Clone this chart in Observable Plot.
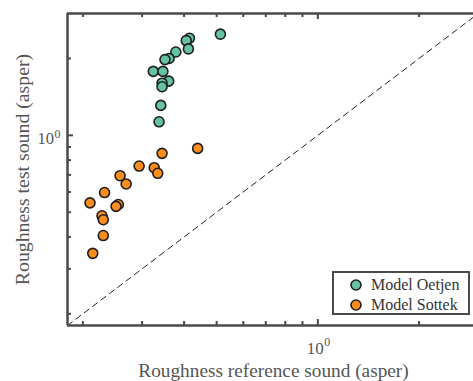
<!DOCTYPE html>
<html>
<head>
<meta charset="utf-8">
<script src="https://cdn.jsdelivr.net/npm/d3@7"></script>
<script src="https://cdn.jsdelivr.net/npm/@observablehq/plot@0.6"></script>
<style>
  body { margin: 0; background: #fff; }
  #wrap { position: relative; width: 473px; height: 381px; font-family: "Liberation Serif", "Times New Roman", serif; }
  #legend { position: absolute; left: 332px; top: 271px; width: 134px; height: 40px; border: 2px solid #4a4a4a; background: #fff; box-sizing: content-box; }
  #legend .row { position: absolute; left: 0; height: 20px; display: flex; align-items: center; font-size: 16px; color: #333; }
  #legend svg { margin-left: 16px; margin-right: 9px; }
</style>
</head>
<body>
<div id="wrap"></div>
<script>
// ---- data ----
const seriesNames = ["Model Oetjen", "Model Sottek"];
const seriesColors = ["#66c2a5", "#f98e1d"];

const oetjenX = [0.513, 0.415, 0.406, 0.412, 0.378, 0.361, 0.351, 0.324, 0.346, 0.360, 0.344, 0.344, 0.341, 0.337];
const oetjenY = [2.49, 2.40, 2.35, 2.18, 2.12, 2.00, 1.98, 1.78, 1.78, 1.63, 1.60, 1.55, 1.31, 1.13];

const sottekX = [0.439, 0.344, 0.294, 0.326, 0.334, 0.258, 0.269, 0.232, 0.210, 0.255, 0.251, 0.228, 0.230, 0.230, 0.214];
const sottekY = [0.889, 0.850, 0.758, 0.747, 0.710, 0.695, 0.645, 0.597, 0.544, 0.536, 0.527, 0.484, 0.467, 0.405, 0.345];

const minorTicks = [0.2, 0.3, 0.4, 0.5, 0.6, 0.7, 0.8, 0.9, 2];
const majorTicks = [1];
const diagonal = [0.18, 3];

const xLabel = "Roughness reference sound (asper)";
const yLabel = "Roughness test sound (asper)";

// ---- layout ----
const W = 473, H = 381;
const mL = 67, mT = 13, mB = 56, mR = 0;
const pw = W - mL - mR, ph = H - mT - mB;
const xDomain = [0.18, 2.904];
const yDomain = [0.18, 3];
const axisColor = "#4a4a4a";
const textColor = "#555";
const font = "'Liberation Serif', 'Times New Roman', serif";

const oetjen = oetjenX.map((x, i) => ({x, y: oetjenY[i]}));
const sottek = sottekX.map((x, i) => ({x, y: sottekY[i]}));

const chart = Plot.plot({
  width: W, height: H,
  marginLeft: mL, marginTop: mT, marginBottom: mB, marginRight: mR,
  style: {fontFamily: font, background: "#fff"},
  x: {type: "log", domain: xDomain, axis: null},
  y: {type: "log", domain: yDomain, axis: null},
  marks: [
    // diagonal y = x
    Plot.line(diagonal, {x: d => d, y: d => d, stroke: "#222", strokeWidth: 1, strokeDasharray: "6,4.5", clip: true}),
    // ticks (inward)
    Plot.tickX(minorTicks, {x: d => d, insetTop: ph - 4, stroke: axisColor, strokeWidth: 2}),
    Plot.tickX(majorTicks, {x: d => d, insetTop: ph - 6, stroke: axisColor, strokeWidth: 2}),
    Plot.tickX(minorTicks, {x: d => d, insetBottom: ph - 4, stroke: axisColor, strokeWidth: 2}),
    Plot.tickX(majorTicks, {x: d => d, insetBottom: ph - 6, stroke: axisColor, strokeWidth: 2}),
    Plot.tickY(minorTicks, {y: d => d, insetRight: pw - 4, stroke: axisColor, strokeWidth: 2}),
    Plot.tickY(majorTicks, {y: d => d, insetRight: pw - 6, stroke: axisColor, strokeWidth: 2}),
    // frame: left, bottom, top (right side cropped)
    Plot.ruleX([xDomain[0]], {stroke: axisColor, strokeWidth: 2.5}),
    Plot.ruleY([yDomain[0]], {stroke: axisColor, strokeWidth: 2.5}),
    Plot.ruleY([yDomain[1]], {stroke: axisColor, strokeWidth: 2.5}),
    // tick labels 10^0
    Plot.text(majorTicks, {x: d => d, frameAnchor: "bottom", text: () => "10", textAnchor: "end", lineAnchor: "bottom", dx: 6, dy: 28, fontSize: 17, fill: textColor}),
    Plot.text(majorTicks, {x: d => d, frameAnchor: "bottom", text: () => "0", textAnchor: "start", lineAnchor: "bottom", dx: 6.5, dy: 20, fontSize: 12, fill: textColor}),
    Plot.text(majorTicks, {y: d => d, frameAnchor: "left", text: () => "10", textAnchor: "end", lineAnchor: "bottom", dx: -13.5, dy: 9, fontSize: 16.5, fill: textColor}),
    Plot.text(majorTicks, {y: d => d, frameAnchor: "left", text: () => "0", textAnchor: "start", lineAnchor: "bottom", dx: -13, dy: 3, fontSize: 12, fill: textColor}),
    // axis labels
    Plot.text([xLabel], {frameAnchor: "bottom", text: d => d, textAnchor: "middle", lineAnchor: "bottom", dx: 3, dy: 51, fontSize: 19.3, fill: textColor}),
    Plot.text([yLabel], {frameAnchor: "left", text: d => d, textAnchor: "middle", rotate: -90, lineAnchor: "bottom", dx: -38.5, dy: 0, fontSize: 19.8, fill: textColor}),
    // points
    Plot.dot(oetjen, {x: "x", y: "y", r: 5, fill: seriesColors[0], stroke: "#1e1e1e", strokeWidth: 1.6}),
    Plot.dot(sottek, {x: "x", y: "y", r: 5, fill: seriesColors[1], stroke: "#1e1e1e", strokeWidth: 1.6})
  ]
});

const wrap = document.getElementById("wrap");
wrap.appendChild(chart);

// legend
const legend = document.createElement("div");
legend.id = "legend";
seriesNames.forEach((name, i) => {
  const row = document.createElement("div");
  row.className = "row";
  row.style.top = (2 + i * 20) + "px";
  row.innerHTML = `<svg width="12" height="12"><circle cx="6" cy="6" r="5" fill="${seriesColors[i]}" stroke="#1e1e1e" stroke-width="1.6"/></svg><span>${name}</span>`;
  legend.appendChild(row);
});
wrap.appendChild(legend);
</script>
</body>
</html>
